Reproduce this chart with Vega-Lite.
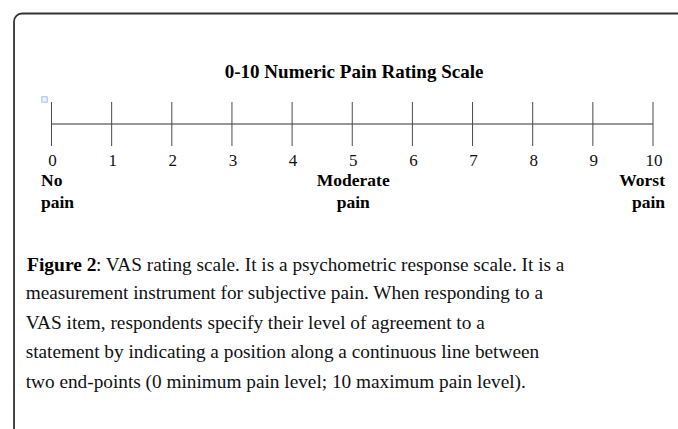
{
  "$schema": "https://vega.github.io/schema/vega-lite/v6.json",
  "width": 678,
  "height": 429,
  "autosize": {"type": "fit", "contains": "padding"},
  "padding": 0,
  "background": "white",
  "config": {"view": {"stroke": null}},
  "datasets": {
    "scale": [
      {"value": 0}, {"value": 1}, {"value": 2}, {"value": 3}, {"value": 4}, {"value": 5},
      {"value": 6}, {"value": 7}, {"value": 8}, {"value": 9}, {"value": 10}
    ],
    "anchors": [
      {"value": 0, "label": "No\npain", "side": "left"},
      {"value": 5, "label": "Moderate\npain", "side": "center"},
      {"value": 10, "label": "Worst\npain", "side": "right"}
    ],
    "title": [{"value": 5.03, "text": "0-10 Numeric Pain Rating Scale"}],
    "caption": [
      {
        "lead": "Figure 2",
        "first": ": VAS rating scale. It is a psychometric response scale. It is a",
        "rest": "measurement instrument for subjective pain. When responding to a\nVAS item, respondents specify their level of agreement to a\nstatement by indicating a position along a continuous line between\ntwo end-points (0 minimum pain level; 10 maximum pain level)."
      }
    ]
  },
  "encoding": {
    "x": {"type": "quantitative", "scale": {"domain": [0, 10], "range": [51.5, 653], "nice": false, "zero": false}, "axis": null},
    "y": {"type": "quantitative", "scale": {"domain": [0, 429], "range": [0, 429], "nice": false, "zero": false}, "axis": null}
  },
  "layer": [
    {
      "data": {"values": [{"frame": "box"}]},
      "mark": {"type": "rect", "fill": null, "fillOpacity": 0, "stroke": "#333333", "strokeWidth": 1.8, "cornerRadius": 8, "clip": true},
      "encoding": {
        "x": {"datum": -0.623, "type": "quantitative"},
        "x2": {"datum": 11.2},
        "y": {"datum": 13.5, "type": "quantitative"},
        "y2": {"datum": 470}
      }
    },
    {
      "data": {"name": "title"},
      "mark": {"type": "text", "font": "Liberation Serif", "fontWeight": "bold", "fontSize": 19, "align": "center", "baseline": "alphabetic", "color": "#000"},
      "encoding": {
        "x": {"field": "value", "type": "quantitative"},
        "y": {"datum": 77.5, "type": "quantitative"},
        "text": {"field": "text"}
      }
    },
    {
      "data": {"values": [{"from": 0, "to": 10}]},
      "mark": {"type": "rule", "color": "#333", "strokeWidth": 1.2},
      "encoding": {
        "x": {"field": "from", "type": "quantitative"},
        "x2": {"field": "to"},
        "y": {"datum": 124, "type": "quantitative"}
      }
    },
    {
      "data": {"name": "scale"},
      "mark": {"type": "rule", "color": "#4a4a4a", "strokeWidth": 1},
      "encoding": {
        "x": {"field": "value", "type": "quantitative"},
        "y": {"datum": 102, "type": "quantitative"},
        "y2": {"datum": 146}
      }
    },
    {
      "data": {"name": "scale"},
      "mark": {"type": "text", "font": "Liberation Serif", "fontSize": 17, "align": "center", "baseline": "alphabetic", "color": "#111", "dx": 1},
      "encoding": {
        "x": {"field": "value", "type": "quantitative"},
        "y": {"datum": 165.5, "type": "quantitative"},
        "text": {"field": "value", "type": "quantitative"}
      }
    },
    {
      "data": {"values": [{"value": -0.116, "kind": "handle"}]},
      "mark": {"type": "point", "shape": "square", "size": 30, "filled": true, "fill": "#e6eefa", "stroke": "#7fa6d8", "strokeWidth": 1},
      "encoding": {
        "x": {"field": "value", "type": "quantitative"},
        "y": {"datum": 99.5, "type": "quantitative"}
      }
    },
    {
      "data": {"name": "anchors"},
      "transform": [{"filter": "datum.side === 'left'"}],
      "mark": {"type": "text", "font": "Liberation Serif", "fontWeight": "bold", "fontSize": 17.5, "align": "left", "baseline": "alphabetic", "lineBreak": "\n", "lineHeight": 22, "dx": -10.5, "color": "#000"},
      "encoding": {
        "x": {"field": "value", "type": "quantitative"},
        "y": {"datum": 186, "type": "quantitative"},
        "text": {"field": "label"}
      }
    },
    {
      "data": {"name": "anchors"},
      "transform": [{"filter": "datum.side === 'center'"}],
      "mark": {"type": "text", "font": "Liberation Serif", "fontWeight": "bold", "fontSize": 17.5, "align": "center", "baseline": "alphabetic", "lineBreak": "\n", "lineHeight": 22, "dx": 1, "color": "#000"},
      "encoding": {
        "x": {"field": "value", "type": "quantitative"},
        "y": {"datum": 186, "type": "quantitative"},
        "text": {"field": "label"}
      }
    },
    {
      "data": {"name": "anchors"},
      "transform": [{"filter": "datum.side === 'right'"}],
      "mark": {"type": "text", "font": "Liberation Serif", "fontWeight": "bold", "fontSize": 17.5, "align": "right", "baseline": "alphabetic", "lineBreak": "\n", "lineHeight": 22, "dx": 12, "color": "#000"},
      "encoding": {
        "x": {"field": "value", "type": "quantitative"},
        "y": {"datum": 186, "type": "quantitative"},
        "text": {"field": "label"}
      }
    },
    {
      "data": {"name": "caption"},
      "mark": {"type": "text", "font": "Liberation Serif", "fontWeight": "bold", "fontSize": 19.5, "align": "left", "baseline": "alphabetic", "color": "#000"},
      "encoding": {
        "x": {"datum": -0.407, "type": "quantitative"},
        "y": {"datum": 270.5, "type": "quantitative"},
        "text": {"field": "lead"}
      }
    },
    {
      "data": {"name": "caption"},
      "mark": {"type": "text", "font": "Liberation Serif", "fontSize": 19.3, "align": "left", "baseline": "alphabetic", "color": "#111", "dx": 69},
      "encoding": {
        "x": {"datum": -0.407, "type": "quantitative"},
        "y": {"datum": 270.5, "type": "quantitative"},
        "text": {"field": "first"}
      }
    },
    {
      "data": {"name": "caption"},
      "mark": {"type": "text", "font": "Liberation Serif", "fontSize": 19.3, "align": "left", "baseline": "alphabetic", "lineBreak": "\n", "lineHeight": 29.6, "color": "#111"},
      "encoding": {
        "x": {"datum": -0.43, "type": "quantitative"},
        "y": {"datum": 299, "type": "quantitative"},
        "text": {"field": "rest"}
      }
    }
  ]
}
